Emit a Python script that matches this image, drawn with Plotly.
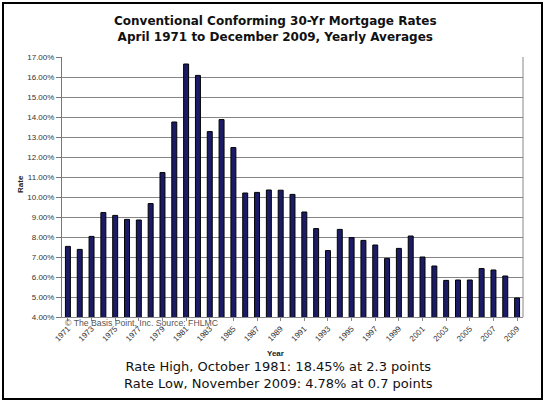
import plotly.graph_objects as go

years = list(range(1971, 2010))
rates = [7.53, 7.38, 8.03, 9.22, 9.08, 8.88, 8.85, 9.67, 11.22, 13.75,
         16.65, 16.08, 13.27, 13.87, 12.47, 10.20, 10.23, 10.35, 10.34, 10.13,
         9.25, 8.42, 7.32, 8.38, 7.97, 7.83, 7.60, 6.93, 7.43, 8.05,
         7.00, 6.55, 5.83, 5.85, 5.85, 6.42, 6.35, 6.05, 4.95]
tick_years = list(range(1971, 2010, 2))
y_ticks = [4 + i for i in range(14)]
y_tick_text = [f"{v:.2f}%" for v in y_ticks]

title_text = "<b>Conventional Conforming 30-Yr Mortgage Rates<br>April 1971 to December 2009, Yearly Averages</b>"
footer_text = ("Rate High, October 1981: 18.45% at 2.3 points<br>"
               "Rate Low, November 2009: 4.78% at 0.7 points")
credit_text = "© The Basis Point, Inc. Source: FHLMC"

W_PX, H_PX = 550, 405
L, R, T, B = 62, 27, 57, 88
PW = W_PX - L - R
PH = H_PX - T - B

def px(x):
    return (x - L) / PW

def py(y):
    return 1 - (y - T) / PH

fig = go.Figure()
fig.add_trace(go.Bar(
    x=years, y=rates,
    marker=dict(color="#1c1c66", line=dict(color="#000000", width=1)),
    width=0.42,
))

fig.update_layout(
    width=W_PX, height=H_PX,
    margin=dict(l=L, r=R, t=T, b=B, pad=0),
    paper_bgcolor="white", plot_bgcolor="white",
    showlegend=False,
    font=dict(family="Liberation Sans, Arial", color="#333333", size=8),
    xaxis=dict(
        range=[1970.5, 2009.5], tickmode="array", tickvals=tick_years,
        ticktext=[str(y) for y in tick_years], tickangle=-45,
        showgrid=False, showline=True, linecolor="#888888", linewidth=1,
        ticks="outside", ticklen=3, tickcolor="#888888",
        tickfont=dict(size=8, color="#333333"),
        zeroline=False, mirror=False,
    ),
    yaxis=dict(
        range=[4, 17], tickmode="array", tickvals=y_ticks, ticktext=y_tick_text,
        showgrid=True, gridcolor="#858585", gridwidth=1,
        showline=True, linecolor="#777777", linewidth=1,
        ticks="outside", ticklen=5, tickcolor="#777777",
        tickfont=dict(size=8, color="#333333"),
        zeroline=False,
    ),
)

annotations = [
    dict(text=title_text, x=px(275), y=py(29), xref="paper", yref="paper",
         showarrow=False, xanchor="center", yanchor="middle",
         font=dict(family="DejaVu Sans", size=12, color="#111111")),
    dict(text=footer_text, x=px(278), y=py(375), xref="paper", yref="paper",
         showarrow=False, xanchor="center", yanchor="middle",
         font=dict(family="DejaVu Sans", size=13, color="#111111")),
    dict(text="<b>Year</b>", x=px(275), y=py(353), xref="paper", yref="paper",
         showarrow=False, xanchor="center", yanchor="middle",
         font=dict(family="Liberation Sans, Arial", size=8, color="#222222")),
    dict(text="<b>Rate</b>", x=px(20), y=py(184), xref="paper", yref="paper",
         showarrow=False, xanchor="center", yanchor="middle", textangle=-90,
         font=dict(family="Liberation Sans, Arial", size=8, color="#222222")),
    dict(text=credit_text, x=px(63), y=py(323), xref="paper", yref="paper",
         showarrow=False, xanchor="left", yanchor="middle",
         font=dict(family="Liberation Sans, Arial", size=8.7, color="#555555")),
]
fig.update_layout(annotations=annotations)

shapes = [
    dict(type="line", xref="paper", yref="paper", x0=1, x1=1, y0=0, y1=1,
         line=dict(color="#888888", width=1)),
    dict(type="rect", xref="paper", yref="paper",
         x0=px(3), x1=px(542), y0=py(399), y1=py(3),
         line=dict(color="#000000", width=2), layer="above"),
]
fig.update_layout(shapes=shapes)

fig.write_html("out.html")
